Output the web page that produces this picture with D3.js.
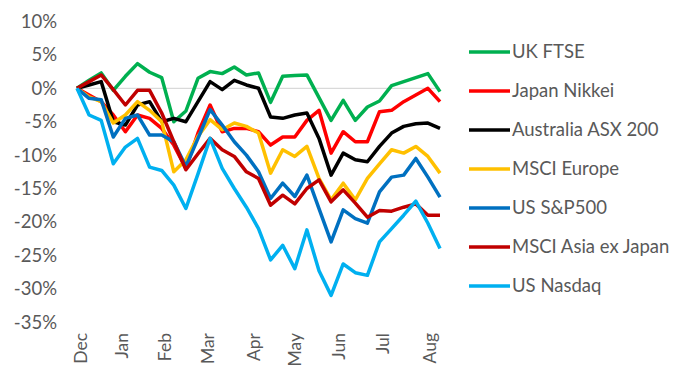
<!DOCTYPE html>
<html>
<head>
<meta charset="utf-8">
<script src="https://cdnjs.cloudflare.com/ajax/libs/d3/7.8.5/d3.min.js"></script>
<style>
	body { margin: 0; background: #fff; }
	text { font-family: Lato, "Open Sans", sans-serif; fill: #595959; }
</style>
</head>
<body>
<div id="chart"></div>
<script>

// Etiquetas del eje X y su posición (en número de observación)
var meses = ["Dec", "Jan", "Feb", "Mar", "Apr", "May", "Jun", "Jul", "Aug"];
var posMeses = [0.25, 3.7, 7.25, 10.8, 14.55, 18, 21.6, 25.25, 29.1];

// Etiquetas del eje Y (%)
var ticksY = [10, 5, 0, -5, -10, -15, -20, -25, -30, -35];

// Series (% de variación desde el inicio)
var ukFtse = [0, 1.2, 2.3, -0.3, 1.8, 3.7, 2.4, 1.6, -5.0, -3.4, 1.5, 2.5, 2.2, 3.2, 2.0, 2.3, -2.1, 1.8, 1.9, 2.0, -1.4, -4.8, -1.8, -4.8, -2.8, -1.9, 0.4, 1.0, 1.6, 2.2, -0.5];
var japanNikkei = [0, -1.0, -2.0, -4.0, -6.5, -4.0, -4.5, -6.0, -8.5, -12.0, -6.7, -2.5, -6.5, -6.0, -6.0, -6.5, -8.5, -7.3, -7.3, -4.8, -3.3, -9.7, -6.5, -8.0, -8.0, -3.5, -3.3, -2.0, -1.0, 0, -2.0];
var australiaAsx = [0, 0.5, 1.0, -5.0, -5.5, -2.5, -2.0, -5.0, -4.5, -5.0, -2.0, 1.0, -0.2, 1.2, 0.5, 0, -4.3, -4.5, -4.0, -3.7, -7.5, -13.0, -9.7, -10.7, -11.0, -8.7, -6.7, -5.7, -5.3, -5.2, -6.0];
var msciEurope = [0, -1.3, -2.0, -5.2, -4.0, -2.0, -3.3, -5.0, -12.5, -10.7, -7.2, -4.7, -6.2, -5.2, -5.7, -6.7, -12.7, -9.2, -10.2, -8.7, -13.5, -16.7, -14.2, -16.7, -13.5, -11.3, -9.2, -9.7, -8.7, -10.2, -12.7];
var usSp500 = [0, -1.5, -1.7, -7.3, -4.5, -4.0, -7.0, -7.0, -8.0, -11.7, -7.5, -3.2, -5.5, -8.0, -10.0, -12.5, -16.5, -14.2, -16.2, -13.0, -18.0, -23.0, -18.2, -19.5, -20.2, -15.5, -13.3, -13.0, -10.5, -13.3, -16.3];
var msciAsiaExJapan = [0, 1.0, 2.0, -0.2, -2.5, -0.3, -0.3, -3.7, -8.0, -12.2, -9.8, -7.5, -9.2, -10.2, -12.5, -13.5, -17.5, -16.0, -17.3, -15.0, -13.7, -17.0, -15.2, -17.2, -19.3, -18.3, -18.4, -17.8, -17.3, -19.0, -19.0];
var usNasdaq = [0, -4.0, -4.8, -11.3, -8.8, -7.5, -11.8, -12.3, -14.5, -18.0, -12.8, -7.5, -12.0, -15.0, -17.8, -21.0, -25.7, -23.5, -27.0, -21.2, -27.3, -31.0, -26.3, -27.6, -28.0, -23.0, -21.0, -19.0, -16.9, -20.2, -24.0];

var nombres = ["UK FTSE", "Japan Nikkei", "Australia ASX 200", "MSCI Europe", "US S&P500", "MSCI Asia ex Japan", "US Nasdaq"];
var colores = ["#00B050", "#FF0000", "#000000", "#FFC000", "#0070C0", "#C00000", "#00B0F0"];

var series = [ukFtse, japanNikkei, australiaAsx, msciEurope, usSp500, msciAsiaExJapan, usNasdaq].map(function(v, i) {
	return { nombre: nombres[i], valores: v, color: colores[i] };
});

var width = 677, height = 367;

var svg = d3.select("#chart").append("svg")
	.attr("width", width)
	.attr("height", height);

var x = d3.scaleLinear().domain([0, ukFtse.length - 1]).range([77, 440]);
var y = d3.scaleLinear().domain([-35, 10]).range([322.1, 21.5]);

/**
 * Función que dibuja los ejes.
 */
function drawAxes() {
	var ejeY = svg.append("g")
		.attr("transform", "translate(62,0)")
		.call(d3.axisLeft(y).tickValues(ticksY).tickSize(0).tickPadding(5)
			.tickFormat(function(d) { return d + "%"; }));
	ejeY.select(".domain").remove();
	ejeY.selectAll("text").style("font-size", "18.5px").attr("fill", "#595959");

	// línea del cero
	svg.append("line")
		.attr("x1", x(0)).attr("x2", x(ukFtse.length - 1))
		.attr("y1", y(0)).attr("y2", y(0))
		.attr("stroke", "#d9d9d9").attr("stroke-width", 1.2);

	var ejeX = svg.append("g")
		.attr("transform", "translate(0,333)")
		.call(d3.axisBottom(x).tickValues(posMeses).tickSize(0)
			.tickFormat(function(d, i) { return meses[i]; }));
	ejeX.select(".domain").remove();
	ejeX.selectAll("text")
		.attr("transform", "rotate(-90)")
		.attr("text-anchor", "end")
		.attr("x", 0).attr("y", 0).attr("dy", "0.35em")
		.style("font-size", "17.5px").attr("fill", "#595959");
}

/**
 * Función que dibuja las líneas.
 */
function drawLines() {
	var linea = d3.line()
		.x(function(d, i) { return x(i); })
		.y(function(d) { return y(d); });

	svg.selectAll(".serie").data(series).enter()
		.append("path")
		.attr("class", "serie")
		.attr("fill", "none")
		.attr("stroke", function(d) { return d.color; })
		.attr("stroke-width", 3.5)
		.attr("stroke-linejoin", "round")
		.attr("d", function(d) { return linea(d.valores); });
}

/**
 * Función que dibuja la leyenda.
 */
function drawLegend() {
	var fila = d3.scalePoint().domain(nombres).range([52, 286]);

	var items = svg.selectAll(".leyenda").data(series).enter()
		.append("g")
		.attr("class", "leyenda")
		.attr("transform", function(d) { return "translate(0," + fila(d.nombre) + ")"; });

	items.append("line")
		.attr("x1", 469).attr("x2", 510)
		.attr("stroke", function(d) { return d.color; })
		.attr("stroke-width", 3.5);

	items.append("text")
		.attr("x", 512)
		.attr("dy", "0.35em")
		.style("font-size", "18.5px")
		.text(function(d) { return d.nombre; });
}

drawAxes();
drawLines();
drawLegend();

</script>
</body>
</html>
